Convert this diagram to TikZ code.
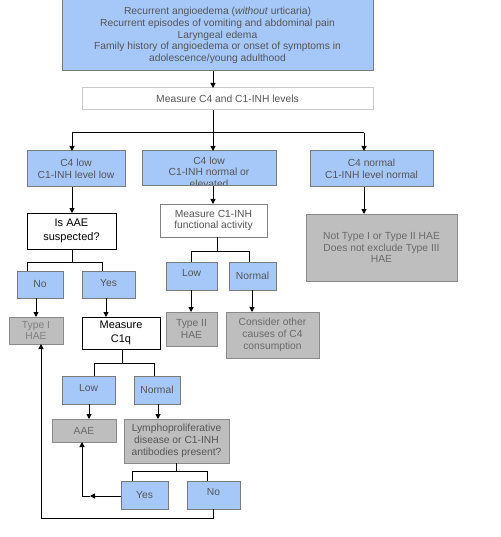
\documentclass[tikz,border=0pt]{standalone}
\usepackage{fontspec}
\setmainfont{Liberation Sans}
\usetikzlibrary{arrows.meta,calc}
\definecolor{bfill}{HTML}{A6C8F8}
\definecolor{bline}{HTML}{7A7A7A}
\definecolor{gfill}{HTML}{BEBEBE}
\definecolor{gline}{HTML}{8A8A8A}
\definecolor{tgray}{HTML}{555555}
\definecolor{tlgray}{HTML}{6A6A6A}
\definecolor{wline}{HTML}{C8C8C8}
\begin{document}
\begin{tikzpicture}[x=1pt,y=-1pt,
  box/.style={rectangle,inner sep=0pt,outer sep=0pt,line width=1pt,align=center,
    font=\fontsize{10.3}{11.8}\selectfont},
  bluebox/.style={box,fill=bfill,draw=bline,text=tgray},
  graybox/.style={box,fill=gfill,draw=gline,text=tlgray},
  qbox/.style={box,fill=white,draw=black,text=black,font=\fontsize{11}{13.5}\selectfont},
  lbox/.style={box,fill=white,draw=wline,text=tgray},
  wd/.style={minimum width=#1pt},
  ht/.style={minimum height=#1pt},
  conn/.style={line width=1pt,black},
  arr/.style={conn,-{Triangle[length=5pt,width=5pt]}}
]
\useasboundingbox (0,0) rectangle (500,537);
\fill[white] (0,0) rectangle (500,537);

% nodes
\node[bluebox,wd=311,ht=71] (top) at (217.5,35.5)
  {Recurrent angioedema (\textit{without} urticaria)\\Recurrent episodes of vomiting and abdominal pain\\Laryngeal edema\\Family history of angioedema or onset of symptoms in\\adolescence/young adulthood};
\node[lbox,wd=291,ht=22] (measure) at (227.5,99) {Measure C4 and C1-INH levels};

\node[bluebox,wd=98,ht=36] (c4low) at (76,169) {C4 low\\C1-INH level low};
\node[bluebox,wd=134,ht=35,
  path picture={\node[text=tgray,align=center,font=\fontsize{10.3}{11.5}\selectfont] (midtext)
     at ([yshift=-3.5pt]path picture bounding box.center) {C4 low\\C1-INH normal or\\elevated};}] (mid) at (209,168.5) {};
\node[bluebox,wd=123,ht=36] (c4norm) at (371.5,169) {C4 normal\\C1-INH level normal};

\node[graybox,wd=151,ht=67] (nottype) at (381.5,247.5) {Not Type I or Type II HAE\\Does not exclude Type III\\HAE};
\node[qbox,wd=89,ht=36] (isaae) at (71.5,231) {Is AAE\\suspected?};
\node[lbox,draw=gray,wd=107,ht=33] (measc1) at (213.5,220.5) {Measure C1-INH\\functional activity};

\node[bluebox,wd=46,ht=27] (no1) at (40,284.5) {No};
\node[bluebox,wd=53,ht=27] (yes1) at (108.5,284.5) {\raisebox{3.5pt}{Yes}};
\node[bluebox,wd=51,ht=28] (lowm) at (191.5,276) {\raisebox{6pt}{Low}};
\node[bluebox,wd=47,ht=28] (normm) at (252.5,276) {Normal};

\node[graybox,text=tlgray!85,wd=54,ht=27] (type1) at (36,330.5) {Type I\\HAE};
\node[qbox,wd=78,ht=32] (c1q) at (121,333) {Measure\\C1q};
\node[graybox,wd=51,ht=34] (type2) at (191.5,329) {Type II\\HAE};
\node[graybox,wd=93,ht=46] (consider) at (272.5,335) {Consider other\\causes of C4\\consumption};

\node[bluebox,wd=53,ht=28] (lowq) at (88.5,390) {\raisebox{5pt}{Low}};
\node[bluebox,wd=46,ht=28] (normq) at (157,390) {Normal};

\node[graybox,wd=64,ht=23] (aae) at (84,430.5) {AAE};
\node[graybox,text=tgray,wd=105,ht=44] (lympho) at (176.5,441) {Lymphoproliferative\\disease or C1-INH\\antibodies present?};

\node[bluebox,wd=47,ht=28] (yes2) at (144.5,495) {Yes};
\node[bluebox,wd=53,ht=28] (no2) at (213.5,495) {\raisebox{6pt}{No}};

% junction coordinates
\coordinate (j1) at (213,133);
\coordinate (hL) at (72,133);
\coordinate (hR) at (364,133);
\coordinate (j2) at (72,262);
\coordinate (j2L) at (27,262);
\coordinate (j2R) at (102,262);
\coordinate (j3) at (217,251);
\coordinate (j3L) at (191,251);
\coordinate (j3R) at (249,251);
\coordinate (j4) at (122,363);
\coordinate (j4L) at (94,363);
\coordinate (j4R) at (154,363);
\coordinate (j5) at (176,471);
\coordinate (j5L) at (132,471);
\coordinate (j5R) at (207,471);
\coordinate (yc) at (82,496);
\coordinate (ym) at (90,496);
\coordinate (nb) at (213,518);
\coordinate (nbL) at (41,518);

% connectors
\draw[arr] (top.south -| j1) -- (measure.north -| j1);
\draw[conn] (measure.south -| j1) -- (j1);
\draw[conn] (hL) -- (hR);
\draw[arr] (hL) -- (hL |- c4low.north);
\draw[arr] (j1) -- (j1 |- mid.north);
\draw[arr] (hR) -- (hR |- c4norm.north);

\draw[arr] (c4low.south -| hL) -- (isaae.north -| hL);
\draw[arr] (mid.south -| j1) -- (measc1.north -| j1);
\draw[arr] (c4norm.south -| hR) -- (nottype.north -| hR);

\draw[conn] (isaae.south -| j2) -- (j2);
\draw[conn] (j2L |- no1.north) -- (j2L) -- (j2R) -- (j2R |- yes1.north);
\draw[conn] (measc1.south -| j3) -- (j3);
\draw[conn] (j3L |- lowm.north) -- (j3L) -- (j3R) -- (j3R |- normm.north);

\draw[arr] (no1.south -| 36,0) -- (type1.north -| 36,0);
\draw[arr] (yes1.south -| 106,0) -- (c1q.north -| 106,0);
\draw[arr] (lowm.south -| j3L) -- (type2.north -| j3L);
\draw[arr] (normm.south -| 252,0) -- (consider.north -| 252,0);

\draw[conn] (c1q.south -| j4) -- (j4);
\draw[conn] (j4L |- lowq.north) -- (j4L) -- (j4R) -- (j4R |- normq.north);
\draw[arr] (lowq.south -| 89,0) -- (aae.north -| 89,0);
\draw[arr] (normq.south -| 158,0) -- (lympho.north -| 158,0);

\draw[conn] (lympho.south -| j5) -- (j5);
\draw[conn] (j5L |- yes2.north) -- (j5L) -- (j5R) -- (j5R |- no2.north);

\draw[arr] (yes2.west |- yc) -- (ym);
\draw[arr] (ym) -- (yc) -- (yc |- aae.south);
\draw[arr] (no2.south -| nb) -- (nb) -- (nbL) -- (nbL |- type1.south);
\end{tikzpicture}
\end{document}
